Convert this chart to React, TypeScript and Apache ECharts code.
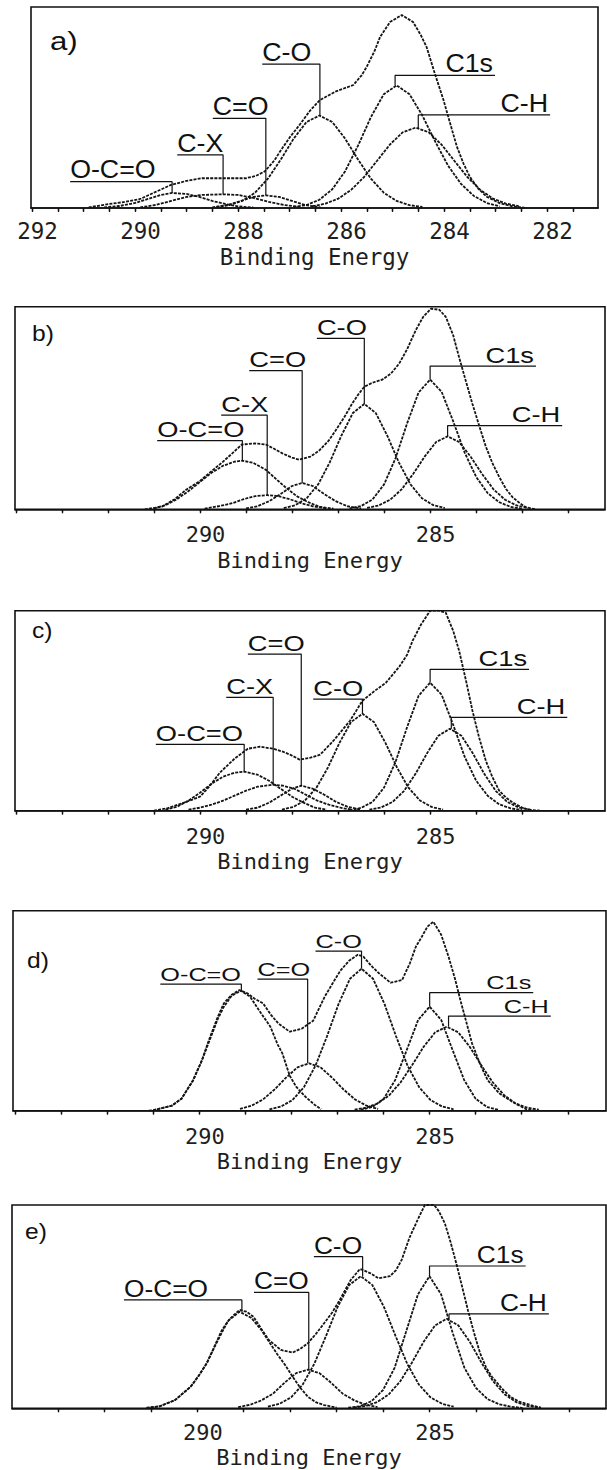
import React, { useEffect, useRef } from 'react';
import * as echarts from 'echarts';

type Pt = [number, number];
type Note = { name: string; peakE: number; peakV: number; lineV: number; endE: number; side: 'left' | 'right' };

// ---------------- Panel a ----------------
const A_ENVELOPE: Pt[] = [[290.9,0.3],[290.5,2],[290.2,3],[289.9,4.5],[289.6,8],[289.3,11.5],[289.0,13.5],[288.7,14.8],[288.3,14.8],[287.85,14.8],[287.65,16],[287.48,18.2],[287.3,23.5],[287.15,29.4],[287.0,35],[286.8,41.5],[286.6,48.5],[286.41,53.7],[286.1,58],[285.76,61.2],[285.6,66],[285.5,70.3],[285.35,78],[285.24,85.2],[285.05,92.5],[284.82,96],[284.6,92.5],[284.45,86],[284.34,80.2],[284.18,67],[284.01,53.7],[283.88,42],[283.75,30.5],[283.62,22],[283.5,15.6],[283.33,9.5],[283.17,5.6],[282.91,2.3],[282.66,0.8],[282.4,0]];
const A_OCO: Pt[] = [[290.6,0.3],[290.3,1],[290.0,2.5],[289.75,4.5],[289.5,6.5],[289.28,7.5],[289.0,7],[288.75,5.5],[288.5,3.5],[288.25,2],[288.0,0.8],[287.7,0.2]];
const A_CX: Pt[] = [[289.9,0.3],[289.6,1.5],[289.3,3.5],[289.0,5.5],[288.7,6.5],[288.29,6.8],[288.0,6.5],[287.7,5],[287.4,3],[287.1,1.5],[286.8,0.5]];
const A_CEO: Pt[] = [[288.5,0.3],[288.2,1.5],[287.95,3.5],[287.7,5.5],[287.46,6.3],[287.2,5.5],[286.95,3.5],[286.7,1.5],[286.4,0.3]];
const A_CO: Pt[] = [[288.42,0.5],[288.17,1.4],[287.92,3.5],[287.67,7.6],[287.42,14.6],[287.17,24.1],[286.92,34.5],[286.67,42.8],[286.42,46],[286.17,42.8],[285.92,34.5],[285.67,24.1],[285.42,14.6],[285.17,7.6],[284.92,3.5],[284.67,1.4],[284.42,0.5]];
const A_C1S: Pt[] = [[286.92,0.5],[286.67,1.5],[286.42,4.1],[286.17,9.3],[285.92,18.3],[285.67,31],[285.42,45.2],[285.17,56.6],[284.92,61],[284.67,56.6],[284.42,46],[284.17,33],[283.92,21],[283.67,12],[283.42,6],[283.17,2.5],[282.92,0.8]];
const A_CH: Pt[] = [[286.55,0.9],[286.3,2.2],[286.05,4.7],[285.8,9.1],[285.55,15.5],[285.3,23.5],[285.05,31.6],[284.8,37.7],[284.55,40],[284.3,37.7],[284.05,31.6],[283.8,23.5],[283.55,15.5],[283.3,9.1],[283.05,4.7],[282.8,2.2],[282.55,0.9]];
const A_NOTES: Note[] = [
  { name: 'O-C=O', peakE: 289.28, peakV: 7.5, lineV: 13.1, endE: 291.26, side: 'left' },
  { name: 'C-X', peakE: 288.29, peakV: 6.8, lineV: 26.4, endE: 289.18, side: 'left' },
  { name: 'C=O', peakE: 287.46, peakV: 6.3, lineV: 44.6, endE: 288.49, side: 'left' },
  { name: 'C-O', peakE: 286.41, peakV: 46, lineV: 71.6, endE: 287.53, side: 'left' },
  { name: 'C1s', peakE: 284.95, peakV: 61, lineV: 66, endE: 283.01, side: 'right' },
  { name: 'C-H', peakE: 284.5, peakV: 39.8, lineV: 46.3, endE: 281.94, side: 'right' },
];
const A_RANGE: Pt = [281.01, 292.02];
const A_TICKS = [281.5,282,282.5,283,283.5,284,284.5,285,285.5,286,286.5,287,287.5,288,288.5,289,289.5,290,290.5,291,291.5,292];
const A_TICK_LABELS = [282, 284, 286, 288, 290, 292];

// ---------------- Panel b ----------------
const B_ENVELOPE: Pt[] = [[291.2,0],[290.83,1.3],[290.55,5],[290.31,9.5],[290.0,14],[289.74,19],[289.5,23.5],[289.3,27.6],[289.09,32],[288.8,32.5],[288.57,32],[288.4,30],[288.21,27.6],[288.0,25.5],[287.85,24.5],[287.6,26],[287.41,29],[287.2,34],[287.05,39],[286.85,46],[286.7,52],[286.55,57],[286.43,60.5],[286.25,62.5],[286.04,64],[285.85,67],[285.67,72],[285.5,79],[285.31,88.5],[285.15,95],[284.98,99],[284.8,98.5],[284.66,95],[284.5,86],[284.37,75],[284.22,63],[284.08,52],[283.93,41],[283.79,31],[283.65,23],[283.5,16],[283.35,10],[283.21,6],[283.05,3],[282.92,1],[282.7,0]];
const B_OCO: Pt[] = [[291.0,0.5],[290.75,2],[290.5,5],[290.25,9],[290.0,13.5],[289.75,18],[289.5,21.5],[289.25,23.5],[289.08,24],[288.85,23],[288.57,19.5],[288.35,15],[288.15,11],[287.9,6.5],[287.65,3.5],[287.4,1.2],[287.1,0.3]];
const B_CX: Pt[] = [[289.9,0.3],[289.6,1.5],[289.3,3],[289.05,5],[288.8,6.5],[288.54,7],[288.3,6.5],[288.05,5],[287.8,3],[287.55,1.5],[287.25,0.4]];
const B_CEO: Pt[] = [[289.0,0.4],[288.75,1.5],[288.5,4],[288.25,7.5],[288.0,11.5],[287.78,13],[287.55,11.5],[287.3,7.5],[287.05,4],[286.8,1.5],[286.5,0.4]];
const B_CO: Pt[] = [[288.18,0.6],[287.93,2],[287.68,5.5],[287.43,12.4],[287.18,23.2],[286.93,36.3],[286.68,47.5],[286.43,52],[286.18,47.5],[285.93,36.3],[285.68,23.2],[285.43,12.4],[285.18,5.5],[284.93,2],[284.68,0.6]];
const B_C1S: Pt[] = [[286.75,0.4],[286.5,1.6],[286.25,4.9],[286.0,12.3],[285.75,25.3],[285.5,42.4],[285.25,57.7],[285.0,64],[284.75,58],[284.5,43.5],[284.25,28],[284.0,16],[283.75,8],[283.5,3.5],[283.25,1.2],[283.0,0.3]];
const B_CH: Pt[] = [[286.37,0.7],[286.12,1.9],[285.87,4.7],[285.62,9.8],[285.37,17.4],[285.12,26],[284.87,33.2],[284.62,36],[284.37,33.2],[284.12,26],[283.87,17.4],[283.62,9.8],[283.37,4.7],[283.12,1.9],[282.87,0.7]];
const B_NOTES: Note[] = [
  { name: 'O-C=O', peakE: 289.08, peakV: 24, lineV: 33.9, endE: 290.93, side: 'left' },
  { name: 'C-X', peakE: 288.54, peakV: 7, lineV: 46.5, endE: 289.54, side: 'left' },
  { name: 'C=O', peakE: 287.78, peakV: 13, lineV: 68.4, endE: 288.93, side: 'left' },
  { name: 'C-O', peakE: 286.43, peakV: 52, lineV: 84.4, endE: 287.46, side: 'left' },
  { name: 'C1s', peakE: 285.0, peakV: 64, lineV: 70.7, endE: 282.7, side: 'right' },
  { name: 'C-H', peakE: 284.62, peakV: 36, lineV: 41.3, endE: 282.13, side: 'right' },
];
const B_RANGE: Pt = [281.2, 294.02];

// ---------------- Panel c ----------------
const C_ENVELOPE: Pt[] = [[291.0,0],[290.7,1.3],[290.35,4],[290.0,7],[289.8,12],[289.57,19],[289.25,26],[288.96,31],[288.7,32],[288.41,31],[288.2,29.5],[288.04,28],[287.83,25.5],[287.6,26.5],[287.39,28],[287.1,35],[286.74,45],[286.47,55],[286.2,60],[285.96,64],[285.67,72],[285.5,78],[285.38,85],[285.2,93],[285.0,100],[284.8,100],[284.66,99],[284.5,90],[284.37,80],[284.22,65],[284.08,50],[283.94,37],[283.79,25],[283.65,17],[283.5,10],[283.35,6.5],[283.2,4],[283.0,1.5],[282.85,0.5],[282.6,0]];
const C_OCO: Pt[] = [[290.75,0.5],[290.5,2],[290.25,5],[290.0,9],[289.75,13.5],[289.5,17],[289.25,19],[289.04,19.5],[288.75,18],[288.5,15],[288.25,11],[288.0,7],[287.75,4],[287.5,1.5],[287.25,0.5]];
const C_CX: Pt[] = [[290.25,0.5],[290.0,1.5],[289.75,3],[289.5,5],[289.25,7.5],[289.0,10],[288.75,12],[288.41,13],[288.2,12.5],[287.95,11],[287.7,8],[287.45,5],[287.2,3],[286.95,1.5],[286.7,0.5]];
const C_CEO: Pt[] = [[289.0,0.5],[288.75,1.5],[288.5,4],[288.25,7.5],[288.0,11],[287.8,12.5],[287.55,11],[287.3,8],[287.05,4.5],[286.8,2],[286.5,0.5]];
const C_CO: Pt[] = [[288.22,0.5],[287.97,1.9],[287.72,5.1],[287.47,11.5],[287.22,21.6],[286.97,33.9],[286.72,44.3],[286.47,48.5],[286.22,44.3],[285.97,33.9],[285.72,21.6],[285.47,11.5],[285.22,5.1],[284.97,1.9],[284.72,0.5]];
const C_C1S: Pt[] = [[286.75,0.3],[286.5,1.4],[286.25,4.4],[286.0,11.6],[285.75,24.5],[285.5,41.8],[285.25,57.5],[285.0,64],[284.75,58],[284.5,43],[284.25,27],[284.0,15],[283.75,7.5],[283.5,3.2],[283.25,1.2],[283.0,0.3]];
const C_CH: Pt[] = [[286.32,0.5],[286.07,1.6],[285.82,4.3],[285.57,9.8],[285.32,18.3],[285.07,28.6],[284.82,37.5],[284.57,41],[284.32,37.5],[284.07,28.6],[283.82,18.3],[283.57,9.8],[283.32,4.3],[283.07,1.6],[282.82,0.5]];
const C_NOTES: Note[] = [
  { name: 'O-C=O', peakE: 289.04, peakV: 19.5, lineV: 33.2, endE: 290.96, side: 'left' },
  { name: 'C-X', peakE: 288.41, peakV: 13, lineV: 56.7, endE: 289.43, side: 'left' },
  { name: 'C=O', peakE: 287.8, peakV: 12.5, lineV: 78.3, endE: 288.96, side: 'left' },
  { name: 'C-O', peakE: 286.47, peakV: 48.5, lineV: 55.8, endE: 287.54, side: 'left' },
  { name: 'C1s', peakE: 285.0, peakV: 64, lineV: 70.7, endE: 282.85, side: 'right' },
  { name: 'C-H', peakE: 284.54, peakV: 41, lineV: 46.7, endE: 282.02, side: 'right' },
];
const C_RANGE: Pt = [281.2, 294.02];

// ---------------- Panel d ----------------
const D_ENVELOPE: Pt[] = [[291.1,0],[290.99,0.3],[290.6,2.5],[290.39,6],[290.14,15.3],[289.95,25],[289.8,35],[289.6,47],[289.47,53.7],[289.3,58],[289.13,60.3],[288.96,58.7],[288.8,56],[288.62,53.7],[288.45,48],[288.29,43.7],[288.04,39.5],[287.78,41],[287.53,45],[287.28,57],[287.1,64],[286.94,70],[286.75,75],[286.56,78],[286.44,77],[286.25,72],[286.1,68.7],[285.85,64],[285.6,65.3],[285.43,73.7],[285.3,82],[285.17,87],[285.05,92],[284.92,94.5],[284.75,88],[284.59,77],[284.45,66],[284.33,55],[284.2,44],[284.08,33.7],[283.9,23],[283.74,15.3],[283.49,8.7],[283.15,3.7],[282.9,0.7],[282.7,0]];
const D_OCO: Pt[] = [[291.0,0.3],[290.6,2.5],[290.39,6],[290.14,15],[289.95,25],[289.8,34],[289.6,46],[289.47,52],[289.3,57.5],[289.1,60],[288.9,57],[288.7,50],[288.46,42],[288.3,33],[288.2,28.7],[288.04,17.5],[287.9,12],[287.7,7],[287.5,3],[287.36,0.7]];
const D_CEO: Pt[] = [[289.12,0.9],[288.87,2.5],[288.62,5.6],[288.37,10.6],[288.12,16.5],[287.87,21.7],[287.62,23.7],[287.37,21.7],[287.12,16.5],[286.87,10.6],[286.62,5.6],[286.37,2.5],[286.12,0.9]];
const D_CO: Pt[] = [[288.48,0.7],[288.23,2.1],[287.98,5.3],[287.73,11.8],[287.48,22.5],[287.23,37.2],[286.98,53.3],[286.73,66],[286.48,71],[286.23,66],[285.98,53.3],[285.73,37.2],[285.48,22.5],[285.23,11.8],[284.98,5.3],[284.73,2.1],[284.48,0.7]];
const D_C1S: Pt[] = [[286.5,0.4],[286.25,1.8],[286.0,5.9],[285.75,15.3],[285.5,30.2],[285.25,45.4],[285.0,52],[284.75,45.4],[284.5,30.2],[284.25,15.3],[284.0,5.9],[283.75,1.8],[283.5,0.4]];
const D_CH: Pt[] = [[286.63,0.5],[286.38,1.5],[286.13,3.6],[285.88,7.7],[285.63,14.2],[285.38,22.8],[285.13,32],[284.88,39.2],[284.63,42],[284.38,39.2],[284.13,32],[283.88,22.8],[283.63,14.2],[283.38,7.7],[283.13,3.6],[282.88,1.5],[282.63,0.5]];
const D_NOTES: Note[] = [
  { name: 'O-C=O', peakE: 289.09, peakV: 60.3, lineV: 63.3, endE: 290.85, side: 'left' },
  { name: 'C=O', peakE: 287.65, peakV: 23.7, lineV: 65.8, endE: 288.74, side: 'left' },
  { name: 'C-O', peakE: 286.48, peakV: 71, lineV: 79.8, endE: 287.48, side: 'left' },
  { name: 'C1s', peakE: 285.0, peakV: 52, lineV: 59, endE: 282.75, side: 'right' },
  { name: 'C-H', peakE: 284.59, peakV: 42, lineV: 47.3, endE: 282.37, side: 'right' },
];
const D_RANGE: Pt = [281.17, 294.05];

// ---------------- Panel e ----------------
const E_ENVELOPE: Pt[] = [[291.1,0],[290.81,1],[290.48,4],[290.14,10.7],[289.97,16],[289.8,22],[289.64,30],[289.47,38.5],[289.3,44],[289.09,48.4],[288.94,47.5],[288.79,45],[288.62,39],[288.46,33.6],[288.2,28.7],[287.95,27.4],[287.8,29],[287.62,32],[287.45,36.5],[287.27,41.8],[287.1,47],[286.94,53],[286.7,63],[286.5,68.5],[286.43,68],[286.27,66.4],[286.1,64],[285.85,65],[285.72,68],[285.6,73],[285.43,84],[285.25,93],[285.1,100],[284.9,100],[284.8,97],[284.67,91],[284.55,82],[284.42,71],[284.3,60],[284.17,48],[284.04,37],[283.91,27],[283.78,20],[283.66,15.6],[283.41,9],[283.25,5.5],[283.07,3.3],[282.82,1.6],[282.6,0.3]];
const E_OCO: Pt[] = [[291.09,0.3],[290.81,1],[290.48,4],[290.14,10.7],[289.97,16],[289.8,22],[289.59,32],[289.34,43],[289.09,47.5],[288.84,44.5],[288.62,38.5],[288.45,32.5],[288.29,27],[288.1,21],[287.95,15.6],[287.78,10],[287.62,5.7],[287.45,3],[287.27,1.6],[287.0,0.3]];
const E_CEO: Pt[] = [[289.12,0.6],[288.87,1.7],[288.62,3.9],[288.37,7.2],[288.12,12.6],[287.87,17.3],[287.62,19],[287.37,17.3],[287.12,12.6],[286.87,7.2],[286.62,3.9],[286.37,1.7],[286.12,0.6]];
const E_CO: Pt[] = [[288.48,0.8],[288.23,2.2],[287.98,5.4],[287.73,11.7],[287.48,21.9],[287.23,35.5],[286.98,49.8],[286.73,60.6],[286.48,65],[286.23,60.6],[285.98,49.8],[285.73,35.5],[285.48,21.9],[285.23,11.7],[284.98,5.4],[284.73,2.2],[284.48,0.8]];
const E_C1S: Pt[] = [[286.75,0.3],[286.5,1],[286.25,3.5],[286.0,9],[285.75,20],[285.5,38],[285.25,56],[285.0,65],[284.75,56],[284.5,37],[284.25,20],[284.0,10],[283.75,4.5],[283.5,2],[283.25,0.8],[283.0,0.2]];
const E_CH: Pt[] = [[286.63,0.35],[286.38,1.1],[286.13,3],[285.88,6.8],[285.63,13.3],[285.38,22.4],[285.13,32.6],[284.88,40.8],[284.63,44],[284.38,40.8],[284.13,32.6],[283.88,22.4],[283.63,13.3],[283.38,6.8],[283.13,3],[282.88,1.1],[282.63,0.35]];
const E_NOTES: Note[] = [
  { name: 'O-C=O', peakE: 289.04, peakV: 47.5, lineV: 53.3, endE: 291.58, side: 'left' },
  { name: 'C=O', peakE: 287.6, peakV: 19, lineV: 57, endE: 288.78, side: 'left' },
  { name: 'C-O', peakE: 286.44, peakV: 65, lineV: 74.6, endE: 287.49, side: 'left' },
  { name: 'C1s', peakE: 285.0, peakV: 65, lineV: 70, endE: 282.93, side: 'right' },
  { name: 'C-H', peakE: 284.58, peakV: 44, lineV: 46.4, endE: 282.43, side: 'right' },
];
const E_RANGE: Pt = [281.2, 293.99];

const BCDE_TICKS = [282, 283, 284, 285, 286, 287, 288, 289, 290, 291, 292, 293, 294];
const BCDE_TICK_LABELS = [285, 290];
const PANEL_LETTERS = ['a)', 'b)', 'c)', 'd)', 'e)'];
const AXIS_TITLE = 'Binding Energy';

const PANELS = [
  { letter: PANEL_LETTERS[0], curves: [A_ENVELOPE, A_OCO, A_CX, A_CEO, A_CO, A_C1S, A_CH], notes: A_NOTES, range: A_RANGE, ticks: A_TICKS, labels: A_TICK_LABELS },
  { letter: PANEL_LETTERS[1], curves: [B_ENVELOPE, B_OCO, B_CX, B_CEO, B_CO, B_C1S, B_CH], notes: B_NOTES, range: B_RANGE, ticks: BCDE_TICKS, labels: BCDE_TICK_LABELS },
  { letter: PANEL_LETTERS[2], curves: [C_ENVELOPE, C_OCO, C_CX, C_CEO, C_CO, C_C1S, C_CH], notes: C_NOTES, range: C_RANGE, ticks: BCDE_TICKS, labels: BCDE_TICK_LABELS },
  { letter: PANEL_LETTERS[3], curves: [D_ENVELOPE, D_OCO, D_CEO, D_CO, D_C1S, D_CH], notes: D_NOTES, range: D_RANGE, ticks: BCDE_TICKS, labels: BCDE_TICK_LABELS },
  { letter: PANEL_LETTERS[4], curves: [E_ENVELOPE, E_OCO, E_CEO, E_CO, E_C1S, E_CH], notes: E_NOTES, range: E_RANGE, ticks: BCDE_TICKS, labels: BCDE_TICK_LABELS },
];

// layout / style (not data)
const LAYOUT = [
  { left: 31, top: 7, width: 567, height: 201, labelMargin: 11, nameGap: 37, tickFont: 22.5, noteFont: 25.5, noteScale: 1.05, letter: { x: 50, y: 41, size: 26, scale: 1.2 } },
  { left: 15, top: 306.7, width: 590, height: 202.6, labelMargin: 14, nameGap: 40, tickFont: 22, noteFont: 21.5, noteScale: 1.27, letter: { x: 32, y: 333, size: 22, scale: 1.12 } },
  { left: 15, top: 610.7, width: 590, height: 200, labelMargin: 15, nameGap: 40, tickFont: 22, noteFont: 21.5, noteScale: 1.27, letter: { x: 32, y: 630, size: 22, scale: 1.12 } },
  { left: 13, top: 910.7, width: 593, height: 200, labelMargin: 15, nameGap: 40, tickFont: 22, noteFont: 19, noteScale: 1.33, letter: { x: 27, y: 960, size: 22, scale: 1.12 } },
  { left: 12, top: 1205, width: 594, height: 203.3, labelMargin: 13, nameGap: 38, tickFont: 22, noteFont: 23.5, noteScale: 1.12, letter: { x: 25, y: 1231, size: 22, scale: 1.12 } },
];

const INK = '#111111';
const MONO = '"DejaVu Sans Mono", "Liberation Mono", monospace';
const SANS = '"Liberation Sans", Arial, sans-serif';

function buildOption() {
  const grid: any[] = [];
  const xAxis: any[] = [];
  const yAxis: any[] = [];
  const series: any[] = [];
  PANELS.forEach((p, i) => {
    const L = LAYOUT[i];
    grid.push({
      left: L.left, top: L.top, width: L.width, height: L.height,
      show: true, borderColor: INK, borderWidth: 1.6, backgroundColor: 'transparent',
      containLabel: false, outerBoundsMode: 'none',
    });
    yAxis.push({ type: 'value', gridIndex: i, min: 0, max: 100, show: false });
  });
  PANELS.forEach((p, i) => {
    const L = LAYOUT[i];
    xAxis.push({
      type: 'value', gridIndex: i, inverse: true, min: p.range[0], max: p.range[1], position: 'bottom',
      axisLine: { show: true, onZero: false, lineStyle: { color: INK, width: 1.6 } },
      axisTick: { show: true, inside: false, length: 4, customValues: p.ticks, lineStyle: { color: INK, width: 1.3 } },
      axisLabel: {
        show: true, customValues: p.labels, margin: L.labelMargin, padding: [0, 0, 0, 11],
        fontFamily: MONO, fontSize: L.tickFont, color: '#1e1e1e', formatter: (v: number) => String(v),
      },
      splitLine: { show: false },
      name: AXIS_TITLE, nameLocation: 'middle', nameGap: L.nameGap,
      nameTextStyle: { fontFamily: MONO, fontSize: L.tickFont, color: '#1e1e1e' },
    });
  });
  PANELS.forEach((p, i) => {
    xAxis.push({
      type: 'value', gridIndex: i, inverse: true, min: p.range[0], max: p.range[1], position: 'top',
      axisLine: { show: false },
      axisTick: { show: true, inside: true, length: 3, customValues: p.ticks, lineStyle: { color: INK, width: 1.3 } },
      axisLabel: { show: false },
      splitLine: { show: false },
    });
  });
  PANELS.forEach((p, i) => {
    p.curves.forEach((c) => {
      series.push({
        type: 'line', xAxisIndex: i, yAxisIndex: i, data: c, symbol: 'none', showSymbol: false, silent: true,
        lineStyle: { color: '#141414', width: 1.8, type: [3, 1.2] }, z: 3,
      });
    });
    p.notes.forEach((n) => {
      series.push({
        type: 'line', xAxisIndex: i, yAxisIndex: i,
        data: [[n.peakE, n.peakV], [n.peakE, n.lineV], [n.endE, n.lineV]],
        symbol: 'none', showSymbol: false, silent: true,
        lineStyle: { color: INK, width: 1.2, type: 'solid' }, z: 4,
      });
    });
  });
  return { animation: false, backgroundColor: '#ffffff', grid, xAxis, yAxis, series };
}

export default function App() {
  const ref = useRef<HTMLDivElement>(null);
  useEffect(() => {
    if (!ref.current) return;
    const chart = echarts.init(ref.current, undefined, { renderer: 'svg' });
    chart.setOption(buildOption() as any);
    const elements: any[] = [];
    PANELS.forEach((p, i) => {
      const L = LAYOUT[i];
      elements.push({
        type: 'text', x: L.letter.x, y: L.letter.y, scaleX: L.letter.scale, silent: true,
        style: { text: p.letter, fontSize: L.letter.size, fontFamily: SANS, fill: INK, align: 'left', verticalAlign: 'middle', textAlign: 'left', textVerticalAlign: 'middle' },
      });
      const cap = L.noteFont * 0.716;
      p.notes.forEach((n) => {
        const pt = chart.convertToPixel({ xAxisIndex: i, yAxisIndex: i } as any, [n.endE, n.lineV]) as number[];
        const left = n.side === 'left';
        elements.push({
          type: 'text', x: left ? pt[0] : pt[0] - 2, y: pt[1] - 3 - cap / 2, scaleX: L.noteScale, silent: true,
          style: {
            text: n.name, fontSize: L.noteFont, fontFamily: SANS, fill: INK,
            align: left ? 'left' : 'right', verticalAlign: 'middle',
            textAlign: left ? 'left' : 'right', textVerticalAlign: 'middle',
          },
        });
      });
    });
    chart.setOption({ graphic: { elements } } as any);
    return () => chart.dispose();
  }, []);
  return (
    <div
      ref={ref}
      style={{ position: 'absolute', left: 0, top: 0, width: 607, height: 1470, background: '#fff' }}
    />
  );
}
